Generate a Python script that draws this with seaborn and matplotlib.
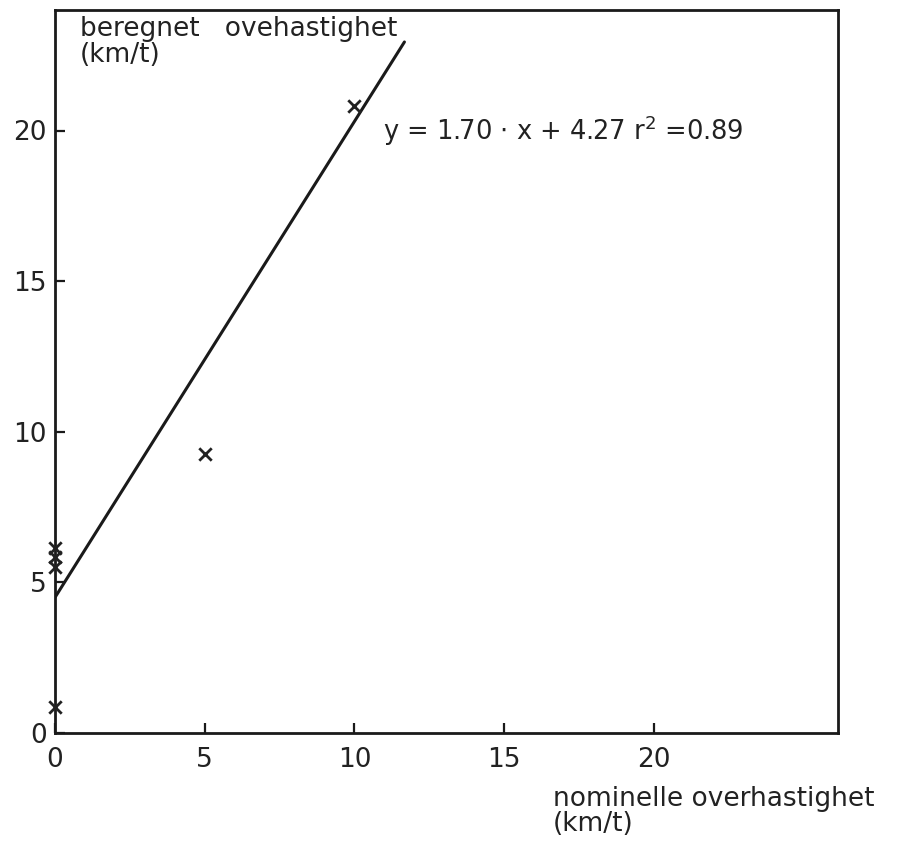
import matplotlib
matplotlib.use("Agg")
import matplotlib.pyplot as plt
import seaborn as sns
import numpy as np
import pandas as pd

# Data
x_vals = [0, 0, 0, 0, 5, 10]
y_vals = [6.15, 5.85, 5.5, 0.85, 9.25, 20.8]
line_x = [0.0, 11.67]
slope = 1.58
intercept = 4.5
x_ticks = [0, 5, 10, 15, 20]
y_ticks = [0, 5, 10, 15, 20]

sns.set_theme(style="white")
plt.rcParams['font.family'] = ['DejaVu Sans']

fig = plt.figure(figsize=(9.13, 8.43), dpi=100)
ax = fig.add_axes([55/913, 1 - 733/843, (838-55)/913, (733-10)/843])

df = pd.DataFrame({"x": x_vals, "y": y_vals})
sns.scatterplot(data=df, x="x", y="y", marker="x", s=80, color="#222222",
                linewidth=2, ax=ax, clip_on=False, zorder=3)
lx = np.array(line_x)
sns.lineplot(x=lx, y=slope * lx + intercept, color="#1a1a1a", linewidth=2.2, ax=ax)

ax.set_xlim(0.05, 26.15)
ax.set_ylim(0, 24.0)
ax.set_xticks(x_ticks)
ax.set_yticks(y_ticks)
ax.set_xticklabels([str(t) for t in x_ticks], fontsize=19, color="#222222")
ax.set_yticklabels([str(t) for t in y_ticks], fontsize=19, color="#222222")
ax.tick_params(axis="both", direction="in", length=7, width=1.6,
               color="#1a1a1a", bottom=True, left=True)
ax.tick_params(axis="x", pad=10)
ax.tick_params(axis="y", pad=6)
ax.set_xlabel("")
ax.set_ylabel("")
for s in ax.spines.values():
    s.set_color("#1a1a1a")
    s.set_linewidth(2)

fig.text(80/913, 1 - 16/843, "beregnet   ovehastighet\n(km/t)", fontsize=19,
         color="#222222", va="top", ha="left", linespacing=1.0)
ax.text(10.95, 20.0, r"y = 1.70 $\cdot$ x + 4.27 r$^2$ =0.89", fontsize=18.5,
        color="#222222", va="center", ha="left")
fig.text(553/913, 1 - 786/843, "nominelle overhastighet\n(km/t)", fontsize=19,
         color="#222222", va="top", ha="left", linespacing=0.95)

fig.savefig("out.png", dpi=100, facecolor="white")
